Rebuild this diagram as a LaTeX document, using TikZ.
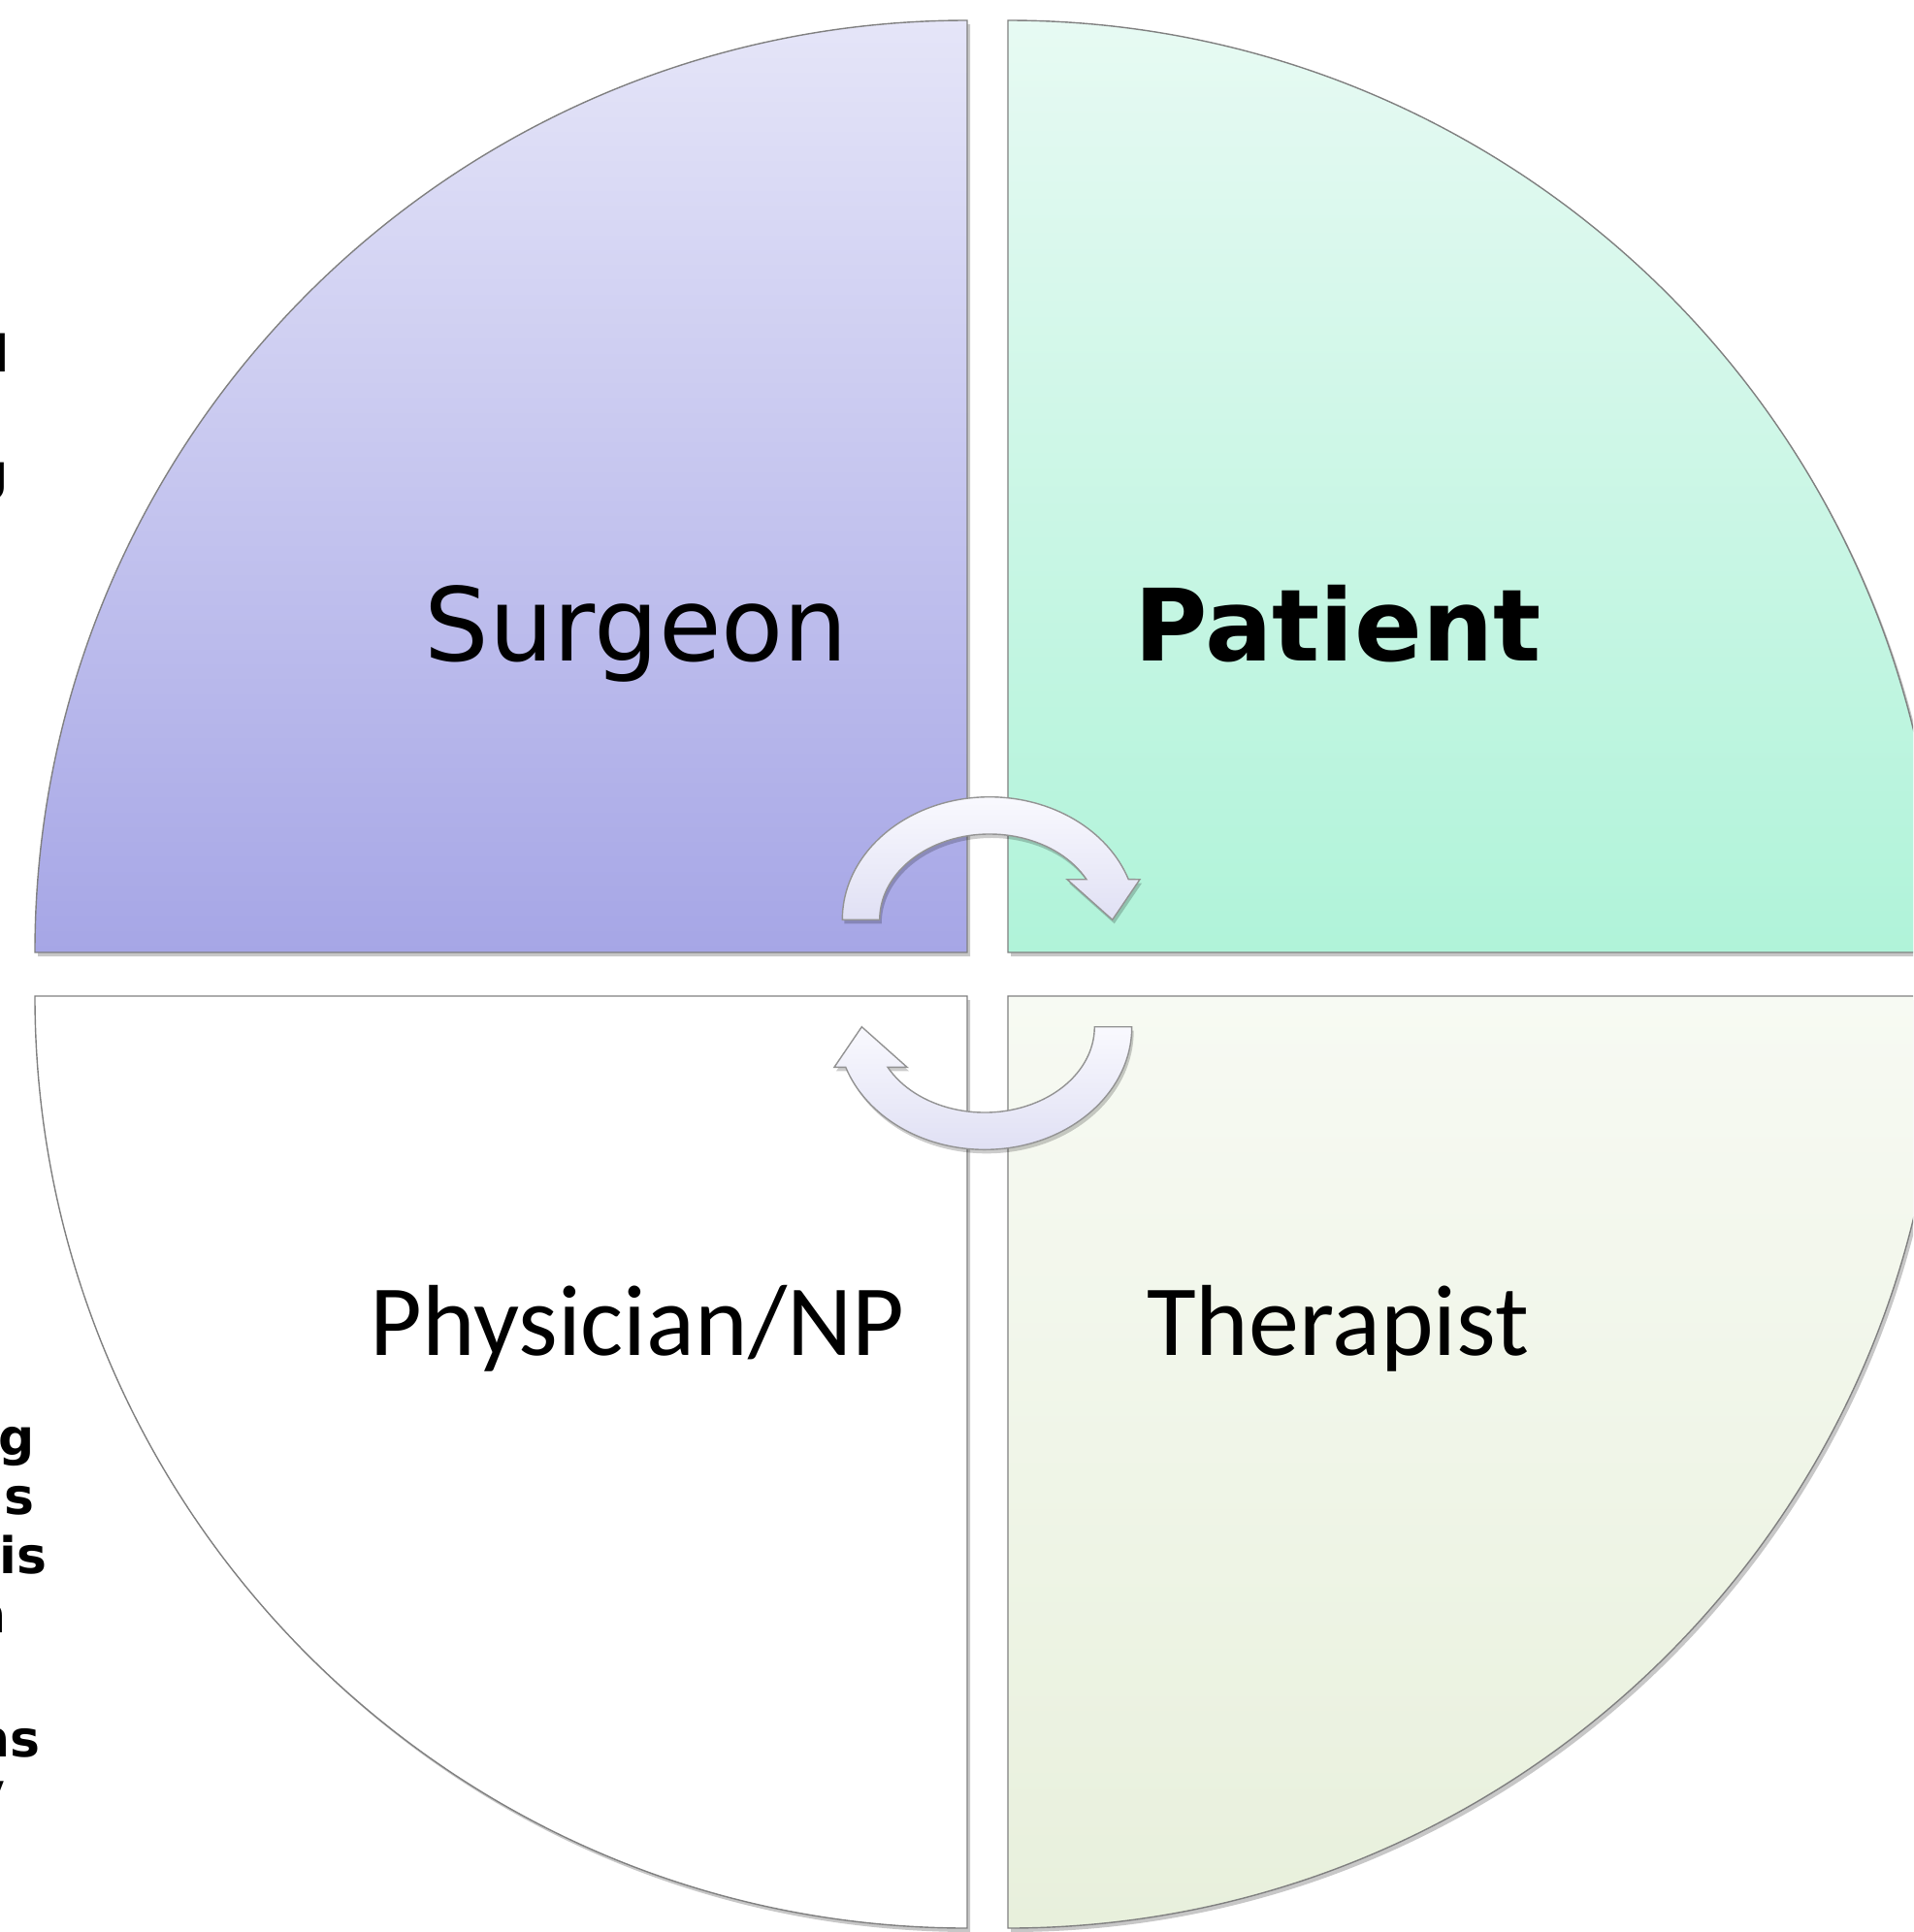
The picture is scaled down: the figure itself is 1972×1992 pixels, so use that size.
\documentclass[tikz,border=0pt]{standalone}
\usepackage{fontspec}
\setmainfont{DejaVu Sans}
\newfontfamily\calfont{Carlito}
\definecolor{surgtop}{RGB}{229,229,248}
\definecolor{surgbot}{RGB}{166,166,230}
\definecolor{pattop}{RGB}{231,250,243}
\definecolor{patbot}{RGB}{176,243,217}
\definecolor{thertop}{RGB}{247,250,243}
\definecolor{therbot}{RGB}{232,240,220}
\definecolor{edgegray}{RGB}{128,128,128}
\definecolor{arrtop}{RGB}{249,249,254}
\definecolor{arrbot}{RGB}{224,224,244}
\begin{document}
\begin{tikzpicture}[x=0.5pt,y=-0.5pt,
  quad/.style={draw=edgegray, line width=0.7pt},
  quadshadow/.style={fill=black, opacity=0.22, draw=none},
  loopfill/.style={draw=edgegray!85, line width=0.7pt, top color=arrtop, bottom color=arrbot},
  role/.style={inner sep=0pt, anchor=base, font=\fontsize{52.5}{60}\selectfont},
  crop/.style={inner sep=0pt, anchor=base east, font=\bfseries\fontsize{26}{30}\selectfont}]
\useasboundingbox (0,0) rectangle (1972,1992);
\begin{scope}
\clip (0,0) rectangle (1972,1992);

% cut-off text at the left edge
\node[crop] (c1) at (10,383) {d};
\node[crop] (c2) at (9,505) {g};
\node[crop] (c3) at (36,1500) {g};
\node[crop] (c4) at (36,1561) {s};
\node[crop] (c5) at (49,1622) {is};
\node[crop] (c6) at (7,1683) {n};
\node[crop] (c7) at (42,1811) {ns};
\node[crop, font=\bfseries\fontsize{18}{20}\selectfont] (c8) at (5,1856) {y};

% soft shadows of the four quarters
\fill[quadshadow, shift={(3,4)}] (997,982) -- (36,982) arc[start angle=180,end angle=270,radius=961] -- cycle;
\fill[quadshadow, shift={(3,4)}] (1039,982) -- (1039,21) arc[start angle=270,end angle=360,radius=961] -- cycle;
\fill[quadshadow, shift={(3,4)}] (1039,1027) -- (2000,1027) arc[start angle=0,end angle=90,radius=961] -- cycle;
\fill[quadshadow, shift={(3,4)}] (997,1027) -- (997,1988) arc[start angle=90,end angle=180,radius=961] -- cycle;

% the four quarters
\path[quad, top color=surgtop, bottom color=surgbot]
  (997,982) -- (36,982) arc[start angle=180,end angle=270,radius=961] -- cycle;
\path[quad, top color=pattop, bottom color=patbot]
  (1039,982) -- (1039,21) arc[start angle=270,end angle=360,radius=961] -- cycle;
\path[quad, top color=thertop, bottom color=therbot]
  (1039,1027) -- (2000,1027) arc[start angle=0,end angle=90,radius=961] -- cycle;
\path[quad, fill=white]
  (997,1027) -- (997,1988) arc[start angle=90,end angle=180,radius=961] -- cycle;

% labels
\node[role] (surgeon) at (656,681) {Surgeon};
\node[role, font=\bfseries\fontsize{51.5}{60}\selectfont] (patient) at (1379,681) {Patient};
\node[role, font=\calfont\fontsize{52}{60}\selectfont] (physician) at (657,1397) {Physician/NP};
\node[role, font=\calfont\fontsize{52}{60}\selectfont] (therapist) at (1379,1397) {Therapist};

% curved block arrows around the centre
\newcommand\turnarrow{(906.7,948.3) -- (868.3,948.3)
  arc[start angle=180, end angle=340.8, x radius=151.7, y radius=126.6]
  -- (1175,906.7) -- (1146.7,948.3) -- (1100,906.7) -- (1120,906.7)
  arc[start angle=331.9, end angle=180, x radius=113.3, y radius=88.3] -- cycle}
\fill[black, opacity=0.2, shift={(2,4)}] \turnarrow;
\path[loopfill] \turnarrow;
\begin{scope}[rotate around={180:(1017.5,1003.5)}]
  \fill[black, opacity=0.2, shift={(-2,-4)}] \turnarrow;
  \path[loopfill] \turnarrow;
\end{scope}
\end{scope}
\end{tikzpicture}
\end{document}
